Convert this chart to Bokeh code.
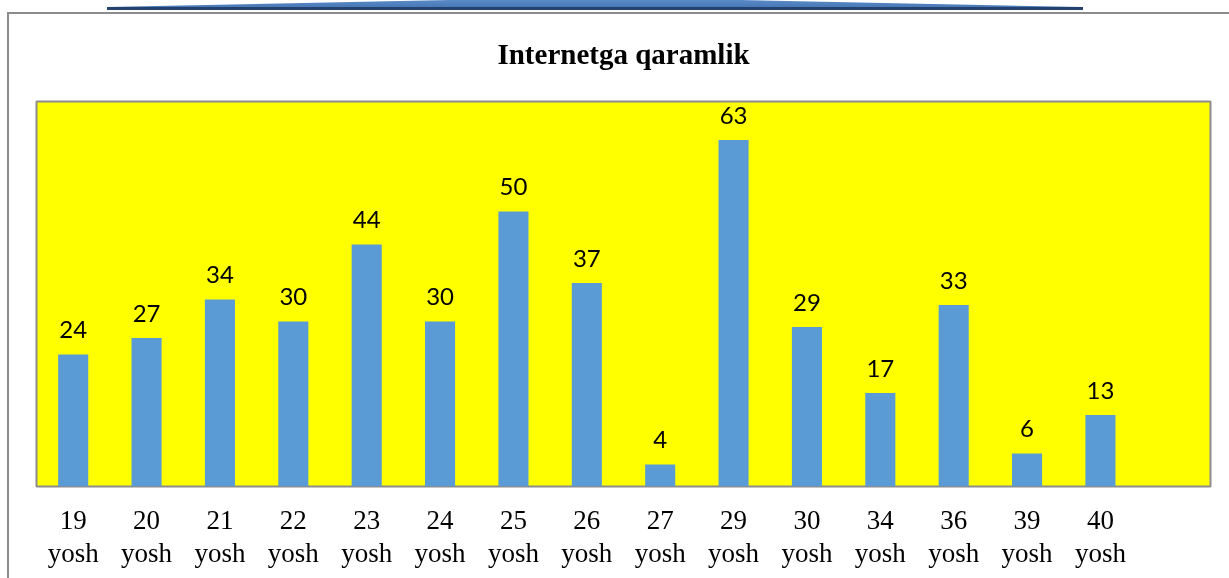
from bokeh.plotting import figure
from bokeh.models import ColumnDataSource, FixedTicker, InlineStyleSheet, LinearAxis
from bokeh.embed import file_html
from bokeh.resources import INLINE
from bokeh.core.properties import value

categories = ["19", "20", "21", "22", "23", "24", "25", "26", "27", "29", "30", "34", "36", "39", "40"]
values = [24, 27, 34, 30, 44, 30, 50, 37, 4, 63, 29, 17, 33, 6, 13]
unit = "yosh"
title = "Internetga qaramlik"

xs = list(range(len(categories)))
src = ColumnDataSource(dict(x=xs, v=values, lab=[str(v) for v in values]))

W, H = 1229, 578
p = figure(width=W, height=H, output_backend="svg", toolbar_location=None,
           x_range=(-0.5, len(categories) + 0.5), y_range=(0, 70),
           min_border_left=36, min_border_right=W - 1210,
           min_border_top=101, min_border_bottom=H - 486,
           title=title, x_axis_location=None)
p.styles = {"position": "fixed", "top": "0px", "left": "0px"}

# page frame lines and top decoration drawn with CSS (not data marks)
css = """
:host::before {
  content: ""; position: absolute; left: 7px; top: 12px; right: 0px; bottom: 0px;
  border-top: 2px solid #8c8c8c; border-left: 2px solid #8c8c8c;
  pointer-events: none; z-index: 5;
}
:host::after {
  content: ""; position: absolute; left: 107px; top: 0px; width: 976px; height: 10px;
  background: linear-gradient(to bottom, #5a8ac6 0%, #4a7ab8 65%, #24426e 70%, #24426e 100%);
  clip-path: polygon(0% 70%, 35% 0%, 65% 0%, 100% 70%, 100% 100%, 0% 100%);
  pointer-events: none; z-index: 5;
}
"""
p.stylesheets = [InlineStyleSheet(css=css)]

p.title.align = "center"
p.title.text_font = "Liberation Serif"
p.title.text_font_size = "29px"
p.title.text_font_style = "bold"
p.title.text_color = "black"
p.title.standoff = 63

p.background_fill_color = "#FFFF00"
p.border_fill_color = "white"
p.outline_line_color = "#8c8c8c"
p.outline_line_width = 2
p.grid.visible = False
p.yaxis.visible = False

p.vbar(x="x", top="v", width=0.41, bottom=0, source=src,
       fill_color="#5B9BD5", line_color=None)
p.text(x="x", y="v", text="lab", source=src, text_align="center",
       text_baseline="alphabetic", y_offset=-25,
       text_font=value("Lato"), text_font_size="24px", text_color="black")


def make_axis(labels, standoff):
    ax = LinearAxis(ticker=FixedTicker(ticks=xs))
    ax.major_label_overrides = {i: t for i, t in zip(xs, labels)}
    ax.axis_line_color = None
    ax.major_tick_line_color = None
    ax.minor_tick_line_color = None
    ax.major_label_text_font = "Liberation Serif"
    ax.major_label_text_font_size = "27px"
    ax.major_label_text_color = "black"
    ax.major_label_standoff = standoff
    return ax


p.add_layout(make_axis(categories, 18), "below")
p.add_layout(make_axis([unit] * len(categories), 0), "below")

open("out.html", "w").write(file_html(p, INLINE))
